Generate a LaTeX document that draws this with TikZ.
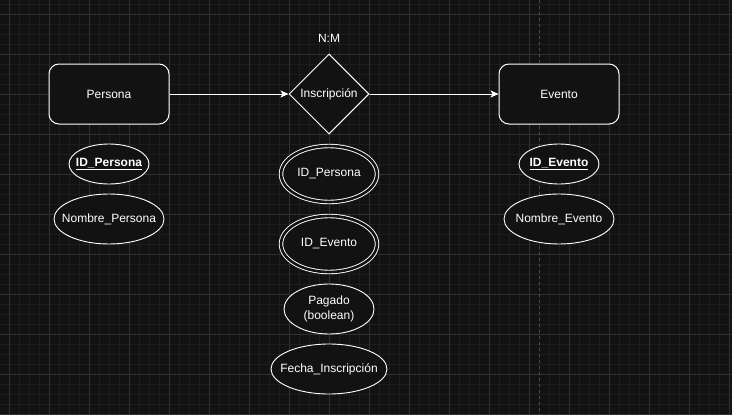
\documentclass[tikz,border=0pt]{standalone}
\usepackage{fontspec}
\setmainfont{Liberation Sans}
\usetikzlibrary{shapes.geometric,arrows.meta}
\definecolor{bgc}{HTML}{121212}
\definecolor{gridminor}{HTML}{1D1D1D}
\definecolor{gridmajor}{HTML}{303030}
\definecolor{pagebreak}{HTML}{4A4A4A}
\tikzset{
  lbl/.style={text=white,font=\fontsize{12}{15}\selectfont,align=center},
  entbox/.style={lbl,draw=white,line width=1pt,fill=bgc,rounded corners=10pt,minimum width=120pt,minimum height=60pt,inner sep=0pt},
  relbox/.style={lbl,draw=white,line width=1pt,fill=bgc,diamond,minimum width=80pt,minimum height=80pt,inner sep=0pt,aspect=1},
  attr/.style={draw=white,line width=0.9pt,fill=bgc,ellipse,inner sep=0pt},
  dattr/.style={draw=white,line width=0.9pt,double=bgc,double distance=2.6pt,fill=bgc,ellipse,inner sep=0pt,minimum width=96pt,minimum height=56pt},
  keylbl/.style={lbl,font=\bfseries\fontsize{12}{15}\selectfont},
  conn/.style={draw=white,line width=1pt,-{Stealth[length=8pt,width=7pt,inset=2pt]}},
}
\begin{document}
\begin{tikzpicture}[x=1pt,y=-1pt]
\useasboundingbox (0,0) rectangle (732,415);
\fill[bgc] (0,0) rectangle (732,415);
% grid
\foreach \k in {-1,...,72} {\draw[gridminor,line width=0.8pt] ({9+10*\k},0) -- ({9+10*\k},415);}
\foreach \k in {-1,...,41} {\draw[gridminor,line width=0.8pt] (0,{14+10*\k}) -- (732,{14+10*\k});}
\foreach \k in {0,...,18} {\draw[gridmajor,line width=0.8pt] ({9+40*\k},0) -- ({9+40*\k},415);}
\foreach \k in {0,...,10} {\draw[gridmajor,line width=0.8pt] (0,{14+40*\k}) -- (732,{14+40*\k});}
\draw[pagebreak,line width=0.8pt,dash pattern=on 3pt off 3pt] (539,0) -- (539,415);
% entities
\node[entbox] (persona) at (109,94) {Persona};
\node[entbox] (evento) at (559,94) {Evento};
\node[relbox] (insc) at (329,94) {Inscripción};
\node[lbl] (nm) at (329,38) {N:M};
\draw[conn] (persona) -- (insc);
\draw[conn] (insc) -- (evento);
% attributes (shapes)
\node[attr,minimum width=80pt,minimum height=40pt] (idp) at (109,164) {};
\node[attr,minimum width=110pt,minimum height=50pt] (nomp) at (109,219) {};
\node[dattr] (fkp) at (329,174) {};
\node[dattr] (fke) at (329,244) {};
\node[attr,minimum width=90pt,minimum height=50pt] (pag) at (329,309) {};
\node[attr,minimum width=116pt,minimum height=50pt] (fecha) at (329,369) {};
\node[attr,minimum width=80pt,minimum height=40pt] (ide) at (559,164) {};
\node[attr,minimum width=110pt,minimum height=50pt] (nome) at (559,219) {};
% attributes (texts)
\node[keylbl] (idpt) at (idp) {\underline{ID\_Persona}};
\node[lbl] (nompt) at (nomp) {Nombre\_Persona};
\node[lbl] (fkpt) at (fkp) {ID\_Persona};
\node[lbl] (fket) at (fke) {ID\_Evento};
\node[lbl] (pagt) at (pag) {Pagado\\(boolean)};
\node[lbl] (fechat) at (fecha) {Fecha\_Inscripción};
\node[keylbl] (idet) at (ide) {\underline{ID\_Evento}};
\node[lbl] (nomet) at (nome) {Nombre\_Evento};
\end{tikzpicture}
\end{document}
